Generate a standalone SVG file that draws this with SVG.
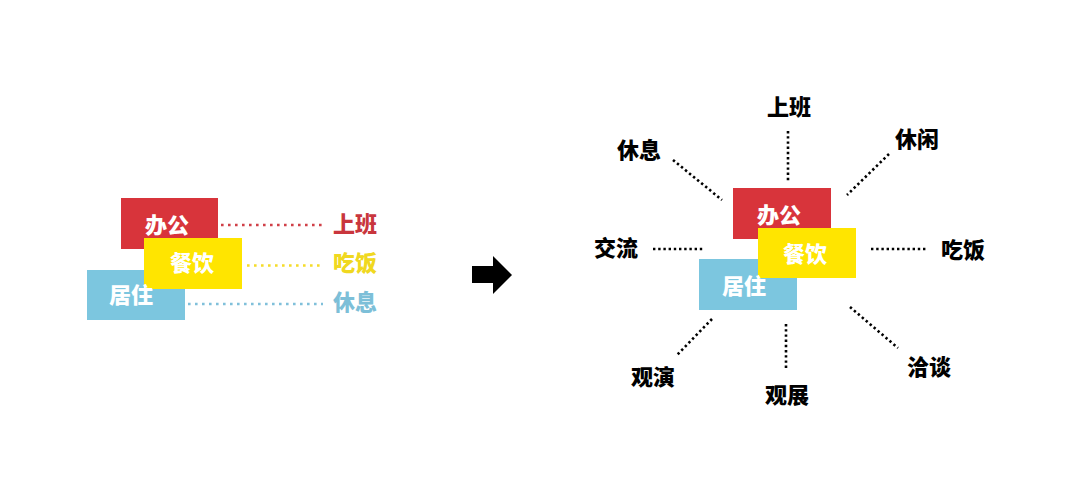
<svg xmlns="http://www.w3.org/2000/svg" width="1080" height="494" viewBox="0 0 1080 494">
<style>
text{font-family:"Noto Sans CJK SC","Noto Sans",sans-serif;font-weight:900;font-size:22px;text-anchor:middle}
.w{fill:#fff}
.lbl{fill:#000}
.red{fill:#d8343b}
.yel{fill:#ffe500}
.blu{fill:#7cc6df}
.dk{stroke:#000;stroke-width:2.6;stroke-dasharray:2.4 2.8;fill:none}
.dr{stroke:#d04048;stroke-width:2.6;stroke-dasharray:2.6 4.4;fill:none}
.dy{stroke:#f5dc2a;stroke-width:2.6;stroke-dasharray:2.6 4.4;fill:none}
.db{stroke:#80c0da;stroke-width:2.6;stroke-dasharray:2.6 4.4;fill:none}
</style>
<rect width="1080" height="494" fill="#fff"/>
<g id="left">
<g id="l-office"><rect class="red" x="121" y="198" width="97" height="51"/></g>
<g id="l-live"><rect class="blu" x="87" y="270" width="98" height="50"/></g>
<g id="l-dine"><rect class="yel" x="144" y="238" width="98" height="51"/></g>
<text class="w" x="167" y="233">办公</text>
<text class="w" x="192" y="271">餐饮</text>
<text class="w" x="131" y="303">居住</text>
<g id="l-connectors">
<line class="dr" x1="221" y1="225" x2="323" y2="225"/>
<line class="dy" x1="247" y1="265.5" x2="323" y2="265.5"/>
<line class="db" x1="188" y1="304" x2="323" y2="304"/>
</g>
<g id="l-work"><text x="355" y="232" fill="#c9363d">上班</text></g>
<g id="l-eat"><text x="355" y="271" fill="#f0d820">吃饭</text></g>
<g id="l-rest"><text x="355" y="310" fill="#7dbfd8">休息</text></g>
</g>
<g id="arrow"><polygon points="472,266 493,266 493,256 512,275 493,294 493,283 472,283" fill="#000"/></g>
<g id="right">
<g id="r-office"><rect class="red" x="733" y="188" width="98" height="51"/></g>
<g id="r-live"><rect class="blu" x="699" y="259" width="98" height="51"/></g>
<g id="r-dine"><rect class="yel" x="758" y="228" width="98" height="50"/></g>
<text class="w" x="779" y="223">办公</text>
<text class="w" x="805" y="262">餐饮</text>
<text class="w" x="744" y="294">居住</text>
<g id="r-connectors">
<line class="dk" x1="788" y1="131" x2="788" y2="182"/>
<line class="dk" x1="889" y1="154" x2="847" y2="195"/>
<line class="dk" x1="673" y1="160" x2="722" y2="200"/>
<line class="dk" x1="653" y1="249" x2="704" y2="249"/>
<line class="dk" x1="871" y1="249" x2="927" y2="249"/>
<line class="dk" x1="850" y1="307" x2="898" y2="348"/>
<line class="dk" x1="786" y1="324" x2="786" y2="370"/>
<line class="dk" x1="712" y1="319" x2="677" y2="355"/>
</g>
<g id="r-work"><text class="lbl" x="789" y="115">上班</text></g>
<g id="r-leisure"><text class="lbl" x="917" y="147">休闲</text></g>
<g id="r-rest"><text class="lbl" x="639" y="158">休息</text></g>
<g id="r-talk"><text class="lbl" x="616" y="256">交流</text></g>
<g id="r-eat"><text class="lbl" x="963" y="258">吃饭</text></g>
<g id="r-nego"><text class="lbl" x="929" y="375">洽谈</text></g>
<g id="r-expo"><text class="lbl" x="787" y="403">观展</text></g>
<g id="r-show"><text class="lbl" x="653" y="385">观演</text></g>
</g>
</svg>
